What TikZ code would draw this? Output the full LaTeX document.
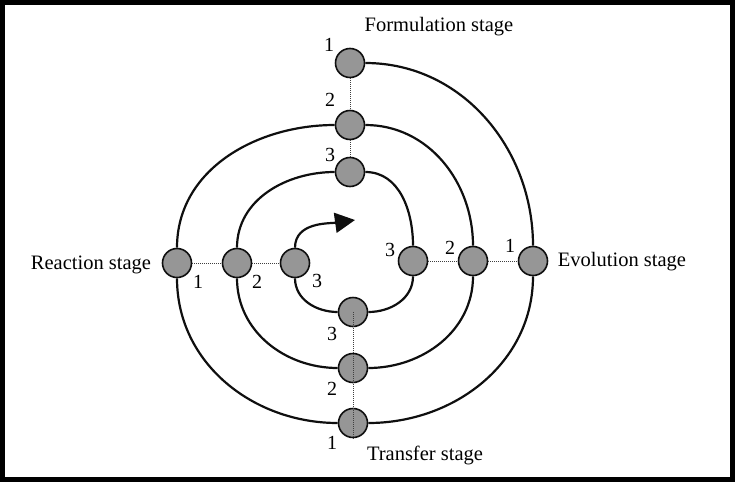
\documentclass[tikz,border=0pt]{standalone}
\usepackage{fontspec}
\setmainfont{Liberation Serif}
\usetikzlibrary{arrows.meta}
\definecolor{gEtape}{RGB}{150,150,150}
\definecolor{cTrait}{RGB}{15,15,15}
\tikzset{
  etape/.style={circle, draw=cTrait, fill=gEtape, line width=1.6pt, inner sep=0pt, minimum size=29pt},
  spirale/.style={draw=cTrait, line width=2.2pt},
  pointille/.style={draw=cTrait!80, line width=1pt, dash pattern=on 1pt off 1pt},
  numero/.style={font=\fontsize{20}{22}\selectfont, inner sep=0pt},
  nomEtape/.style={font=\fontsize{20.5}{24}\selectfont, inner sep=0pt},
}
\begin{document}
\begin{tikzpicture}[x=1pt, y=1pt]
        \useasboundingbox (0,0) rectangle (743,-482);
        % cadre
        \draw[line width=5pt] (2,-2.5) rectangle (732.5,-479.5);
        % étapes (1 = extérieur, 3 = intérieur)
        \foreach \nom/\px/\py in {
            F1/350/-63, F2/350/-125, F3/350/-172,
            R1/177/-263, R2/237/-263, R3/295/-263,
            E1/533/-261, E2/473/-261, E3/413/-261,
            T1/353/-423, T2/353/-368, T3/353/-312} {
          \node[etape] (\nom) at (\px,\py) {};
        }
        % liaisons en pointillé
        \draw[pointille] (F1.south) -- (F2.north);
        \draw[pointille] (F2.south) -- (F3.north);
        \draw[pointille] (R1.east) -- (R2.west);
        \draw[pointille] (R2.east) -- (R3.west);
        \draw[pointille] (E3.east) -- (E2.west);
        \draw[pointille] (E2.east) -- (E1.west);
        \draw[pointille] (T3.center) -- (T1.south);
        % spirale
        \coordinate (pointe) at (355,-220);
        \draw[spirale] (F1.east) to[out=0, in=90] (E1.north)
                       (E1.south) to[out=-90, in=0] (T1.east)
                       (T1.west) to[out=180, in=-90] (R1.south)
                       (R1.north) to[out=90, in=180] (F2.west)
                       (F2.east) to[out=0, in=90] (E2.north)
                       (E2.south) to[out=-90, in=0] (T2.east)
                       (T2.west) to[out=180, in=-90] (R2.south)
                       (R2.north) to[out=90, in=180] (F3.west)
                       (F3.east) to[out=0, in=90] (E3.north)
                       (E3.south) to[out=-90, in=0] (T3.east)
                       (T3.west) to[out=180, in=-90] (R3.south);
        \draw[spirale, -{Triangle[length=20pt, width=20pt]}] (R3.north) to[out=90, in=188] (pointe);
        % numéros
        \foreach \nom/\px/\py/\n in {
            nF1/329/-45/1, nF2/330/-100/2, nF3/330/-155/3,
            nR1/198/-282/1, nR2/257/-282/2, nR3/317/-281/3,
            nE1/510/-246/1, nE2/450/-248/2, nE3/390/-250/3,
            nT1/332/-443/1, nT2/332/-389/2, nT3/332/-334/3} {
          \node[numero] (\nom) at (\px,\py) {\n};
        }
        % noms des étapes
        \node[nomEtape] (formulation) at (439,-27) {Formulation stage};
        \node[nomEtape] (reaction) at (91,-265) {Reaction stage};
        \node[nomEtape] (evolution) at (622,-262) {Evolution stage};
        \node[nomEtape] (transfert) at (425,-455) {Transfer stage};
      \end{tikzpicture}
\end{document}
